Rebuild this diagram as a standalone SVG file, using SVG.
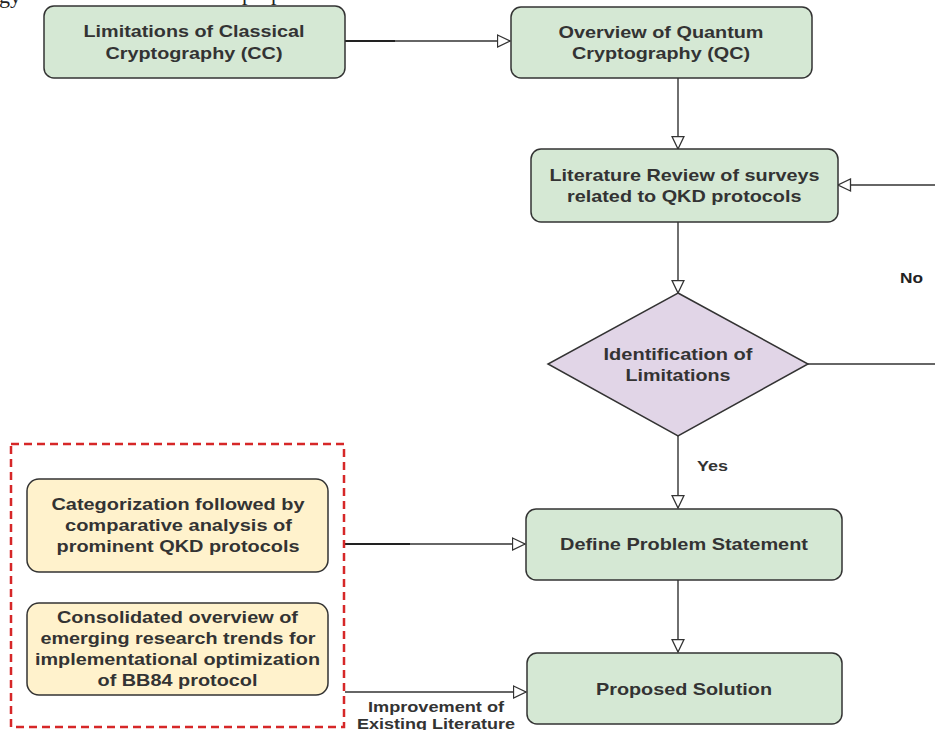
<svg xmlns="http://www.w3.org/2000/svg" width="935" height="730" viewBox="0 0 935 730">
<style>
.box{stroke:#333;stroke-width:1.5}
.g{fill:#d5e8d4}
.y{fill:#fff2cc}
.p{fill:#e1d5e7}
.t{font-family:"Liberation Sans",Arial,sans-serif;font-weight:bold;font-size:17px;fill:#333}
.l{font-family:"Liberation Sans",Arial,sans-serif;font-weight:bold;font-size:15px;fill:#333}
.c{fill:none;stroke:#333;stroke-width:1.4}
.cd{fill:none;stroke:#222;stroke-width:2}
.frag{font-family:"Liberation Serif","Times New Roman",serif;font-size:22px;fill:#222}
</style>
<defs>
<marker id="arr" viewBox="0 0 14 14" refX="13.5" refY="7" markerWidth="14" markerHeight="14" markerUnits="userSpaceOnUse" orient="auto">
<path d="M1,1 L13.5,7 L1,13 Z" fill="#fff" stroke="#333" stroke-width="1.3"/>
</marker>
</defs>
<rect width="935" height="730" fill="#fff"/>
<g id="fragments">
<text class="frag" x="-1" y="3">gy</text>
<text class="frag" x="242" y="0">p</text>
<text class="frag" x="271" y="0">p</text>
</g>
<g id="connectors">
<line class="cd" x1="345" y1="41" x2="395" y2="41"/>
<line class="c" x1="395" y1="41" x2="510" y2="41" marker-end="url(#arr)"/>
<line class="c" x1="678" y1="78" x2="678" y2="149" marker-end="url(#arr)"/>
<line class="c" x1="935" y1="185" x2="838" y2="185" marker-end="url(#arr)"/>
<line class="c" x1="678" y1="222" x2="678" y2="293" marker-end="url(#arr)"/>
<line class="c" x1="808" y1="364" x2="935" y2="364"/>
<line class="c" x1="678" y1="436" x2="678" y2="508" marker-end="url(#arr)"/>
<line class="c" x1="678" y1="580" x2="678" y2="652" marker-end="url(#arr)"/>
<line class="cd" x1="345" y1="544" x2="410" y2="544"/>
<line class="c" x1="410" y1="544" x2="525" y2="544" marker-end="url(#arr)"/>
<line class="c" x1="345" y1="692" x2="526" y2="692" marker-end="url(#arr)"/>
<text class="l" x="900" y="283" textLength="23" lengthAdjust="spacingAndGlyphs" style="fill:#222">No</text>
<text class="l" x="697" y="471" textLength="31" lengthAdjust="spacingAndGlyphs">Yes</text>
<text class="l" x="368" y="712" textLength="136" lengthAdjust="spacingAndGlyphs">Improvement of</text>
<text class="l" x="357" y="729" textLength="158" lengthAdjust="spacingAndGlyphs">Existing Literature</text>
</g>
<g id="node-cc">
<rect class="box g" x="44" y="6" width="301" height="72" rx="10"/>
<text class="t" x="83.5" y="37" textLength="221" lengthAdjust="spacingAndGlyphs">Limitations of Classical</text>
<text class="t" x="105.5" y="58.5" textLength="177" lengthAdjust="spacingAndGlyphs">Cryptography (CC)</text>
</g>
<g id="node-qc">
<rect class="box g" x="511" y="7" width="301" height="71" rx="10"/>
<text class="t" x="558.5" y="37.5" textLength="205" lengthAdjust="spacingAndGlyphs">Overview of Quantum</text>
<text class="t" x="572" y="59" textLength="178" lengthAdjust="spacingAndGlyphs">Cryptography (QC)</text>
</g>
<g id="node-lit">
<rect class="box g" x="531" y="149" width="307" height="73" rx="10"/>
<text class="t" x="549.5" y="180.5" textLength="270" lengthAdjust="spacingAndGlyphs">Literature Review of surveys</text>
<text class="t" x="567" y="202" textLength="234.5" lengthAdjust="spacingAndGlyphs">related to QKD protocols</text>
</g>
<g id="node-ident">
<polygon class="box p" points="678,293 808,364 678,436 548,364"/>
<text class="t" x="603.5" y="360" textLength="149" lengthAdjust="spacingAndGlyphs">Identification of</text>
<text class="t" x="625.5" y="381" textLength="105" lengthAdjust="spacingAndGlyphs">Limitations</text>
</g>
<g id="node-define">
<rect class="box g" x="526" y="509" width="316" height="71" rx="10"/>
<text class="t" x="560" y="550" textLength="248" lengthAdjust="spacingAndGlyphs">Define Problem Statement</text>
</g>
<g id="node-proposed">
<rect class="box g" x="527" y="653" width="315" height="71" rx="10"/>
<text class="t" x="596" y="695" textLength="176" lengthAdjust="spacingAndGlyphs">Proposed Solution</text>
</g>
<g id="group-contrib">
<rect x="11" y="444" width="333" height="283" fill="none" stroke="#d62728" stroke-width="2.5" stroke-dasharray="8 5"/>
</g>
<g id="node-categ">
<rect class="box y" x="27" y="479" width="301" height="93" rx="12"/>
<text class="t" x="51.5" y="510" textLength="253" lengthAdjust="spacingAndGlyphs">Categorization followed by</text>
<text class="t" x="65" y="531" textLength="227" lengthAdjust="spacingAndGlyphs">comparative analysis of</text>
<text class="t" x="56.5" y="552" textLength="243" lengthAdjust="spacingAndGlyphs">prominent QKD protocols</text>
</g>
<g id="node-consol">
<rect class="box y" x="27" y="603" width="301" height="92" rx="12"/>
<text class="t" x="57" y="622.5" textLength="241" lengthAdjust="spacingAndGlyphs">Consolidated overview of</text>
<text class="t" x="40.5" y="643.5" textLength="275" lengthAdjust="spacingAndGlyphs">emerging research trends for</text>
<text class="t" x="35" y="664.5" textLength="285" lengthAdjust="spacingAndGlyphs">implementational optimization</text>
<text class="t" x="97.5" y="685.5" textLength="160" lengthAdjust="spacingAndGlyphs">of BB84 protocol</text>
</g>
</svg>
